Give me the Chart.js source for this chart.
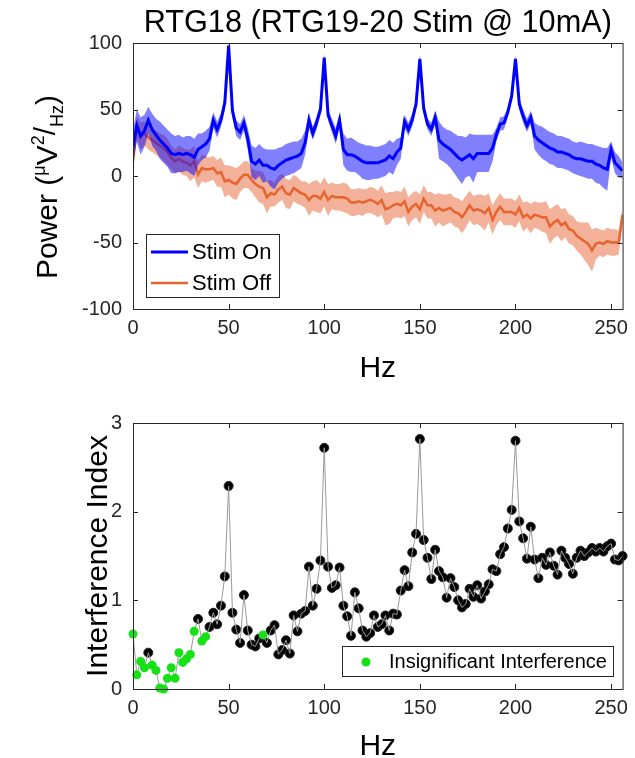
<!DOCTYPE html>
<html>
<head>
<meta charset="utf-8">
<script src="https://cdn.jsdelivr.net/npm/chart.js@4/dist/chart.umd.min.js"></script>
<style>
  html, body { margin: 0; padding: 0; background: #fff; }
  canvas { position: absolute; left: 0; }
</style>
</head>
<body>
<canvas id="powerChart" width="635" height="390" style="top:0"></canvas>
<canvas id="indexChart" width="635" height="368" style="top:390px"></canvas>
<script>
const FONT = '"Liberation Sans", Arial, sans-serif';
const INK = '#262626';

// frequency bins (Hz)
const freqHz = [
  0, 2, 4, 6, 8, 10, 12, 14, 16, 18, 20, 22, 24, 26, 28, 30,
  32, 34, 36, 38, 40, 42, 44, 46, 48, 50, 52, 54, 56, 58, 60, 62,
  64, 66, 68, 70, 72, 74, 76, 78, 80, 82, 84, 86, 88, 90, 92, 94,
  96, 98, 100, 102, 104, 106, 108, 110, 112, 114, 116, 118, 120, 122, 124, 126,
  128, 130, 132, 134, 136, 138, 140, 142, 144, 146, 148, 150, 152, 154, 156, 158,
  160, 162, 164, 166, 168, 170, 172, 174, 176, 178, 180, 182, 184, 186, 188, 190,
  192, 194, 196, 198, 200, 202, 204, 206, 208, 210, 212, 214, 216, 218, 220, 222,
  224, 226, 228, 230, 232, 234, 236, 238, 240, 242, 244, 246, 248, 250, 252, 254,
  256
];

const stimOnMean = [
  22, 38, 30, 34, 42, 35, 31, 27, 24, 21, 17, 16, 17, 16, 17, 16,
  14, 20, 22, 24, 28, 42, 35, 42, 55, 98, 49, 36, 33, 40, 28, 11,
  9, 12, 8, 8, 6, 5, 8, 10, 12, 13, 14, 15, 17, 25, 42, 32,
  40, 50, 89, 46, 38, 30, 42, 20, 16, 16, 15, 13, 11, 10, 10, 10,
  10, 11, 12, 15, 13, 18, 21, 41, 35, 42, 54, 88, 51, 39, 35, 44,
  27, 24, 22, 20, 17, 14, 12, 14, 16, 13, 17, 17, 17, 17, 21, 31,
  39, 40, 48, 60, 88, 54, 45, 38, 44, 30, 27, 25, 23, 21, 20, 18,
  18, 17, 16, 14, 13, 13, 12, 11, 11, 9, 8, 6, 5, 20, 10, 7,
  4
];
const stimOnSpread = [
  12, 12, 14, 12, 10, 12, 12, 14, 14, 14, 15, 14, 14, 13, 13, 14,
  14, 12, 10, 10, 9, 6, 6, 5, 5, 3, 5, 6, 6, 6, 8, 12,
  12, 12, 13, 12, 14, 15, 13, 12, 12, 12, 12, 11, 11, 9, 6, 5,
  5, 4, 3, 4, 5, 6, 5, 12, 12, 13, 12, 12, 13, 13, 13, 12,
  12, 12, 12, 12, 12, 10, 8, 5, 5, 5, 4, 3, 4, 4, 5, 5,
  14, 13, 13, 14, 15, 16, 18, 15, 16, 18, 14, 14, 14, 14, 10, 5,
  5, 5, 4, 4, 3, 4, 5, 5, 5, 10, 11, 12, 12, 12, 12, 12,
  12, 12, 12, 12, 12, 13, 13, 13, 13, 14, 14, 15, 16, 6, 8, 8,
  6
];
const stimOffMean = [
  11, 37, 30, 32, 29, 27, 25, 23, 21, 18, 14, 11, 13, 11, 10, 8,
  11, 1, 6, 5, 5, 6, 2, 3, -4, -3, -5, -6, -2, 1, 1, -3,
  -6, -8, -9, -16, -13, -14, -10, -8, -13, -14, -9, -11, -13, -14, -18, -15,
  -15, -17, -12, -18, -15, -16, -16, -16, -17, -20, -20, -19, -20, -19, -18, -19,
  -21, -18, -25, -24, -22, -21, -22, -19, -27, -23, -21, -25, -17, -22, -22, -26,
  -24, -26, -25, -24, -27, -28, -31, -27, -22, -26, -25, -26, -28, -24, -33, -27,
  -23, -27, -27, -27, -29, -24, -31, -29, -32, -29, -30, -31, -31, -38, -35, -33,
  -37, -35, -40, -41, -45, -47, -49, -51, -56, -51, -50, -51, -49, -50, -50, -50,
  -29
];
const stimOffSpread = [
  6, 8, 10, 9, 9, 9, 9, 9, 10, 10, 9, 9, 10, 10, 10, 12,
  12, 10, 10, 10, 9, 9, 10, 11, 12, 11, 12, 12, 10, 10, 10, 9,
  10, 12, 12, 12, 10, 9, 10, 10, 11, 11, 10, 10, 9, 10, 12, 11,
  12, 11, 11, 12, 10, 10, 10, 11, 11, 10, 10, 10, 10, 9, 10, 10,
  10, 11, 12, 12, 10, 10, 10, 11, 11, 10, 10, 11, 10, 10, 10, 12,
  11, 12, 11, 11, 11, 11, 12, 12, 11, 11, 11, 12, 13, 11, 11, 10,
  10, 10, 10, 10, 10, 10, 11, 10, 11, 10, 10, 11, 12, 13, 12, 12,
  12, 11, 11, 11, 11, 12, 14, 16, 16, 12, 10, 10, 10, 10, 10, 9,
  6
];

const interferenceIndex = [
  0.62, 0.16, 0.31, 0.24, 0.41, 0.27, 0.21, 0.01, 0.00, 0.12, 0.24, 0.12, 0.41, 0.30, 0.34, 0.39,
  0.65, 0.79, 0.54, 0.59, 0.70, 0.86, 0.73, 0.94, 1.27, 2.29, 0.86, 0.67, 0.52, 1.06, 0.66, 0.50,
  0.48, 0.57, 0.61, 0.52, 0.66, 0.72, 0.39, 0.44, 0.55, 0.40, 0.83, 0.65, 0.85, 0.88, 1.38, 0.94,
  1.13, 1.45, 2.72, 1.38, 1.14, 1.17, 1.37, 0.94, 0.82, 0.60, 1.09, 0.91, 0.66, 0.59, 0.63, 0.83,
  0.70, 0.73, 0.83, 0.66, 0.85, 0.84, 1.11, 1.34, 1.16, 1.54, 1.75, 2.82, 1.68, 1.48, 1.24, 1.57,
  1.33, 1.26, 1.03, 1.25, 1.15, 1.00, 0.92, 0.96, 1.13, 1.04, 1.17, 1.02, 1.10, 1.18, 1.35, 1.33,
  1.52, 1.60, 1.81, 2.02, 2.80, 1.89, 1.70, 1.47, 1.83, 1.46, 1.25, 1.48, 1.40, 1.54, 1.39, 1.29,
  1.56, 1.48, 1.41, 1.30, 1.48, 1.56, 1.50, 1.54, 1.59, 1.55, 1.59, 1.55, 1.61, 1.64, 1.46, 1.45,
  1.50
];
const insignificantHz = [0, 2, 4, 6, 10, 12, 14, 16, 18, 20, 22, 24, 26, 28, 30, 32, 36, 38, 68];

const hzTicks = [0, 50, 100, 150, 200, 250];
const powerTicks = [-100, -50, 0, 50, 100];
const indexTicks = [0, 1, 2, 3];

const pts = (ys) => freqHz.map((x, i) => ({ x, y: ys[i] }));
const useTicks = (list) => (scale) => { scale.ticks = list.map((v) => ({ value: v })); };

// MATLAB style box with inward ticks
const boxAxes = {
  id: 'boxAxes',
  afterDraw(chart) {
    const { ctx, chartArea: a, scales: { x, y } } = chart;
    ctx.save();
    ctx.strokeStyle = INK;
    ctx.lineWidth = 1;
    ctx.strokeRect(a.left + 0.5, a.top + 0.5, a.right - a.left, a.bottom - a.top);
    ctx.beginPath();
    x.ticks.forEach((t) => {
      const px = Math.round(x.getPixelForValue(t.value)) + 0.5;
      ctx.moveTo(px, a.bottom); ctx.lineTo(px, a.bottom - 5);
      ctx.moveTo(px, a.top); ctx.lineTo(px, a.top + 5);
    });
    y.ticks.forEach((t) => {
      const py = Math.round(y.getPixelForValue(t.value)) + 0.5;
      ctx.moveTo(a.left, py); ctx.lineTo(a.left + 5, py);
      ctx.moveTo(a.right, py); ctx.lineTo(a.right - 5, py);
    });
    ctx.stroke();
    ctx.restore();
  }
};

function xScale(height) {
  return {
    type: 'linear', min: 0, max: 256,
    afterBuildTicks: useTicks(hzTicks),
    afterFit: (s) => { s.height = height; },
    grid: { display: false, drawTicks: false },
    border: { display: false },
    ticks: { padding: 7, color: INK, font: { size: 20, family: FONT }, maxRotation: 0 }
  };
}
function yScale(min, max, list) {
  return {
    min, max,
    afterBuildTicks: useTicks(list),
    afterFit: (s) => { s.width = 133; },
    grid: { display: false, drawTicks: false },
    border: { display: false },
    ticks: { padding: 11, color: INK, font: { size: 20, family: FONT } }
  };
}

// ---------- top: power spectra ----------
const powerText = {
  id: 'powerText',
  afterDraw(chart) {
    const { ctx, chartArea: a } = chart;
    const cx = (a.left + a.right) / 2;
    ctx.save();
    ctx.fillStyle = '#000';
    ctx.textAlign = 'center';
    ctx.textBaseline = 'alphabetic';
    ctx.font = '30.7px ' + FONT;
    ctx.fillText('RTG18 (RTG19-20 Stim @ 10mA)', cx, 32);
    ctx.font = '30px ' + FONT;
    ctx.fillText('Hz', cx, 377);

    // y label with super/subscripts
    const parts = [
      { t: 'Power (', s: 30, dy: 0 },
      { t: 'μ', s: 18, dy: -12 },
      { t: 'V', s: 30, dy: 0 },
      { t: '2', s: 18, dy: -13 },
      { t: '/', s: 30, dy: -2 },
      { t: 'Hz', s: 18, dy: 6 },
      { t: ')', s: 30, dy: 0 }
    ];
    let total = 0;
    parts.forEach((p) => { ctx.font = p.s + 'px ' + FONT; p.w = ctx.measureText(p.t).width; total += p.w; });
    ctx.translate(57, 187 + total / 2);
    ctx.rotate(-Math.PI / 2);
    ctx.textAlign = 'left';
    let cur = 0;
    parts.forEach((p) => { ctx.font = p.s + 'px ' + FONT; ctx.fillText(p.t, cur, p.dy); cur += p.w; });
    ctx.restore();

    // legend
    const box = { x: 146.5, y: 234.5, w: 133, h: 63 };
    ctx.save();
    ctx.fillStyle = '#fff';
    ctx.strokeStyle = INK;
    ctx.lineWidth = 1;
    ctx.fillRect(box.x, box.y, box.w, box.h);
    ctx.strokeRect(box.x, box.y, box.w, box.h);
    const entries = chart.data.datasets.filter((d) => d.inLegend);
    entries.forEach((d, i) => {
      const ly = 252 + i * 31;
      ctx.strokeStyle = d.borderColor;
      ctx.lineWidth = d.borderWidth;
      ctx.beginPath(); ctx.moveTo(151, ly); ctx.lineTo(188, ly); ctx.stroke();
      ctx.fillStyle = '#000';
      ctx.font = '22px ' + FONT;
      ctx.textBaseline = 'middle';
      ctx.fillText(d.label, 192, ly + 1);
    });
    ctx.restore();
  }
};

const bandStyle = { borderWidth: 0, pointRadius: 0 };
new Chart(document.getElementById('powerChart'), {
  type: 'line',
  data: {
    datasets: [
      { label: 'onHi', data: pts(stimOnMean.map((v, i) => v + stimOnSpread[i])), order: 1, ...bandStyle, fill: false },
      { label: 'onLo', data: pts(stimOnMean.map((v, i) => v - stimOnSpread[i])), order: 1, ...bandStyle,
        fill: '-1', backgroundColor: 'rgba(0,0,255,0.5)' },
      { label: 'Stim On', inLegend: true, data: pts(stimOnMean), order: 0,
        borderColor: '#0000ff', borderWidth: 3, pointRadius: 0, fill: false },
      { label: 'offHi', data: pts(stimOffMean.map((v, i) => v + stimOffSpread[i])), order: 3, ...bandStyle, fill: false },
      { label: 'offLo', data: pts(stimOffMean.map((v, i) => v - stimOffSpread[i])), order: 3, ...bandStyle,
        fill: '-1', backgroundColor: 'rgba(230,100,50,0.5)' },
      { label: 'Stim Off', inLegend: true, data: pts(stimOffMean), order: 2,
        borderColor: '#e8642e', borderWidth: 2.5, pointRadius: 0, fill: false }
    ]
  },
  options: {
    responsive: false,
    animation: false,
    events: [],
    layout: { padding: { top: 43, right: 9, left: 0, bottom: 0 } },
    plugins: { legend: { display: false }, tooltip: { enabled: false } },
    scales: { x: xScale(81), y: yScale(-100, 100, powerTicks) }
  },
  plugins: [boxAxes, powerText]
});

// ---------- bottom: interference index ----------
const indexText = {
  id: 'indexText',
  afterDraw(chart) {
    const { ctx, chartArea: a } = chart;
    const cx = (a.left + a.right) / 2;
    ctx.save();
    ctx.fillStyle = '#000';
    ctx.textAlign = 'center';
    ctx.font = '30px ' + FONT;
    ctx.fillText('Hz', cx, 365);
    ctx.translate(107, (a.top + a.bottom) / 2);
    ctx.rotate(-Math.PI / 2);
    ctx.fillText('Interference Index', 0, 0);
    ctx.restore();

    const d = chart.data.datasets.find((s) => s.inLegend);
    ctx.save();
    ctx.fillStyle = '#fff';
    ctx.strokeStyle = INK;
    ctx.lineWidth = 1;
    ctx.fillRect(342.5, 256.5, 271, 30);
    ctx.strokeRect(342.5, 256.5, 271, 30);
    ctx.fillStyle = d.backgroundColor;
    ctx.beginPath(); ctx.arc(366, 272, d.pointRadius, 0, Math.PI * 2); ctx.fill();
    ctx.fillStyle = '#000';
    ctx.font = '20px ' + FONT;
    ctx.textBaseline = 'middle';
    ctx.fillText(d.label, 389, 272);
    ctx.restore();
  }
};

const isInsig = (hz) => insignificantHz.includes(hz);
new Chart(document.getElementById('indexChart'), {
  type: 'line',
  data: {
    datasets: [
      { label: 'Significant', data: pts(interferenceIndex).filter((p) => !isInsig(p.x)), order: 2,
        showLine: false, pointRadius: 4.5, backgroundColor: '#000', borderColor: '#222', borderWidth: 1, clip: false },
      { label: 'trace', data: pts(interferenceIndex), order: 1,
        borderColor: '#9a9a9a', borderWidth: 1, pointRadius: 0, fill: false },
      { label: 'Insignificant Interference', inLegend: true, data: pts(interferenceIndex).filter((p) => isInsig(p.x)), order: 0,
        showLine: false, pointRadius: 4.5, backgroundColor: '#16e016', borderColor: '#16e016', borderWidth: 0, clip: false }
    ]
  },
  options: {
    responsive: false,
    animation: false,
    events: [],
    layout: { padding: { top: 33, right: 9, left: 0, bottom: 0 } },
    plugins: { legend: { display: false }, tooltip: { enabled: false } },
    scales: { x: xScale(69), y: yScale(0, 3, indexTicks) }
  },
  plugins: [boxAxes, indexText]
});
</script>
</body>
</html>
